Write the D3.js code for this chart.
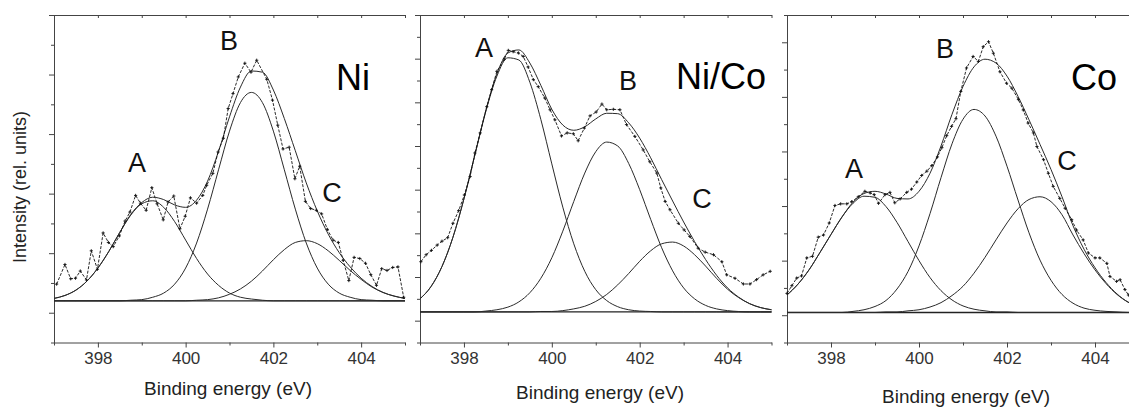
<!DOCTYPE html>
<html><head><meta charset="utf-8">
<script src="https://cdn.jsdelivr.net/npm/d3@7"></script>
<style>
body{margin:0;background:#fff}
svg{display:block}
text{font-family:"Liberation Sans",Arial,sans-serif}
</style>
</head><body>
<svg id="chart" width="1129" height="407"></svg>
<script>
// ---------- DATA ----------
// common energy grid for fitted components (eV)
const energyGrid = [397.00,397.25,397.50,397.75,398.00,398.25,398.50,398.75,399.00,399.25,399.50,399.75,400.00,400.25,400.50,400.75,401.00,401.25,401.50,401.75,402.00,402.25,402.50,402.75,403.00,403.25,403.50,403.75,404.00,404.25,404.50,404.75,405.00];

// Ni panel: fitted components (height above baseline)
const niBaseline = 1.2;
const niCompA = [0.04,0.09,0.18,0.33,0.55,0.83,1.15,1.44,1.63,1.68,1.57,1.33,1.02,0.71,0.45,0.26,0.13,0.06,0.03,0.01,0,0,0,0,0,0,0,0,0,0,0,0,0];
const niCompB = [0,0,0,0,0,0,0,0.01,0.02,0.06,0.13,0.28,0.55,0.97,1.54,2.20,2.85,3.33,3.50,3.33,2.85,2.20,1.54,0.97,0.55,0.28,0.13,0.06,0.02,0.01,0,0,0];
const niCompC = [0,0,0,0,0,0,0,0,0,0,0,0,0,0.01,0.02,0.05,0.11,0.20,0.33,0.50,0.69,0.86,0.98,1.01,0.96,0.84,0.68,0.51,0.36,0.23,0.14,0.08,0.04];
const niDataE = [397.06,397.25,397.38,397.49,397.60,397.74,397.85,397.99,398.12,398.24,398.35,398.49,398.62,398.73,398.86,398.97,399.10,399.23,399.35,399.49,399.60,399.73,399.87,399.99,400.11,400.25,400.39,400.48,400.62,400.74,400.86,400.97,401.08,401.20,401.35,401.49,401.62,401.85,401.98,402.10,402.22,402.36,402.49,402.60,402.73,402.85,402.98,403.10,403.23,403.36,403.48,403.59,403.72,403.84,403.97,404.10,404.22,404.35,404.47,404.59,404.72,404.84,404.97];
const niDataI = [1.48,1.81,1.57,1.58,1.70,1.55,2.04,1.73,2.34,2.18,2.11,2.29,2.54,2.69,2.97,2.84,2.72,3.10,2.83,2.56,2.86,2.96,2.41,2.62,2.93,2.84,2.97,3.14,3.34,3.70,3.93,4.43,4.68,4.96,5.19,5.04,5.24,4.92,4.57,4.15,3.75,3.78,3.25,3.46,2.87,2.75,2.72,2.66,2.40,2.22,2.18,1.88,1.54,1.93,1.91,1.83,1.64,1.46,1.74,1.71,1.76,1.77,1.26];
const niYMajor = [1,2,3,4,5,6];
const niYMinor = [0.5,1.5,2.5,3.5,4.5,5.5];

// Ni/Co panel
const ncBaseline = 1.2;
const ncCompA = [0.30,0.58,1.04,1.71,2.59,3.60,4.60,5.40,5.82,5.77,5.26,4.41,3.39,2.40,1.56,0.93,0.51,0.26,0.12,0.05,0.02,0.01,0,0,0,0,0,0,0,0,0,0,0];
const ncCompB = [0,0,0,0,0,0,0.02,0.05,0.11,0.23,0.44,0.77,1.24,1.85,2.53,3.18,3.67,3.89,3.80,3.40,2.80,2.12,1.47,0.94,0.55,0.30,0.15,0.07,0.03,0.01,0,0,0];
const ncCompC = [0,0,0,0,0,0,0,0,0,0,0,0.01,0.01,0.03,0.07,0.13,0.24,0.40,0.62,0.88,1.16,1.40,1.56,1.60,1.51,1.31,1.05,0.77,0.52,0.33,0.19,0.10,0.05];
const ncDataE = [397.02,397.14,397.26,397.39,397.50,397.63,397.75,397.88,398.01,398.14,398.25,398.37,398.52,398.63,398.75,398.92,399.01,399.12,399.24,399.35,399.46,399.58,399.69,399.84,399.96,400.07,400.22,400.35,400.49,400.60,400.74,400.87,401.01,401.14,401.25,401.40,401.55,401.70,401.89,402.08,402.23,402.39,402.48,402.58,402.69,402.88,403.01,403.14,403.33,403.49,403.68,403.87,403.98,404.17,404.36,404.51,404.66,404.81,404.97];
const ncDataI = [2.35,2.51,2.61,2.73,2.82,2.90,3.23,3.52,3.88,4.30,4.84,5.30,5.90,6.29,6.71,6.99,7.19,7.16,7.13,7.05,6.81,6.52,6.36,6.10,5.83,5.60,5.23,5.30,5.28,5.12,5.41,5.69,5.78,5.96,5.83,5.84,5.83,5.49,5.22,4.91,4.64,4.38,4.04,3.73,3.54,3.23,3.08,2.93,2.66,2.57,2.51,2.35,2.05,1.97,1.84,1.84,1.94,2.05,2.13];
const ncYMajor = [1,2,3,4,5,6,7,8];
const ncYMinor = [0.5,1.5,2.5,3.5,4.5,5.5,6.5,7.5];

// Co panel
const coBaseline = 1.05;
const coCompA = [0.32,0.52,0.78,1.10,1.43,1.75,2.00,2.13,2.11,1.94,1.65,1.30,0.95,0.64,0.40,0.23,0.12,0.06,0.03,0.01,0.01,0,0,0,0,0,0,0,0,0,0,0,0];
const coCompB = [0,0,0,0,0,0,0.02,0.05,0.11,0.22,0.43,0.75,1.22,1.81,2.47,3.09,3.54,3.72,3.60,3.23,2.68,2.06,1.46,0.96,0.59,0.33,0.17,0.08,0.04,0.02,0.01,0,0];
const coCompC = [0,0,0,0,0,0,0,0,0,0.01,0.01,0.03,0.05,0.10,0.18,0.31,0.48,0.72,1.01,1.33,1.64,1.90,2.07,2.12,2.03,1.79,1.42,1.08,0.78,0.53,0.33,0.19,0.10];
const coDataE = [397.00,397.11,397.22,397.33,397.45,397.58,397.71,397.83,397.96,398.09,398.22,398.36,398.47,398.62,398.77,398.89,398.98,399.08,399.23,399.34,399.45,399.57,399.72,399.83,399.95,400.06,400.18,400.29,400.42,400.52,400.63,400.74,400.84,400.95,401.08,401.23,401.35,401.46,401.58,401.69,401.84,401.99,402.11,402.26,402.37,402.48,402.60,402.68,402.83,402.94,403.05,403.20,403.32,403.47,403.58,403.73,403.85,404.00,404.11,404.27,404.34,404.49,404.57,404.68,404.76];
const coDataI = [1.40,1.54,1.68,1.72,2.05,2.08,2.43,2.47,2.69,3.01,3.04,3.04,3.08,3.17,3.27,3.24,3.21,3.05,3.21,3.25,3.06,3.13,3.25,3.31,3.44,3.56,3.64,3.74,3.90,4.07,4.29,4.46,4.60,5.10,5.53,5.74,5.65,5.92,6.01,5.80,5.46,5.25,5.16,4.95,4.76,4.52,4.34,4.09,3.85,3.60,3.36,3.14,2.96,2.75,2.56,2.38,2.14,2.05,2.05,1.95,1.71,1.62,1.65,1.47,1.37];
const coYMajor = [1,2,3,4,5,6];
const coYMinor = [0.5,1.5,2.5,3.5,4.5,5.5,6.5];

// x ticks and labels
const xMajorTicks = [398,400,402,404];
const xMinorTicks = [397,399,401,403,405];
const xAxisTitle = "Binding energy (eV)";
const yAxisTitle = "Intensity (rel. units)";
const panelNames = ["Ni","Ni/Co","Co"];
const peakNames = ["A","B","C"];

// ---------- LAYOUT ----------
const layout = [
  {xr:[54,405],   yd:[0.5,6],   yr:[342.5,15], title:[228,395],
   peaks:[[137,172],[229,50],[332,202]], name:[336,90]},
  {xr:[420,771.5],yd:[0.5,8],   yr:[342.5,15], title:[600,399],
   peaks:[[484,57],[628,90],[702,208]], name:[676,89]},
  {xr:[787,1139], yd:[0.5,6.5], yr:[342.5,15], title:[966,403],
   peaks:[[854,178],[945,58],[1067,170]], name:[1071,90]}
];
const panelData = [
  {base:niBaseline, comps:[niCompA,niCompB,niCompC], dE:niDataE, dI:niDataI, yMaj:niYMajor, yMin:niYMinor},
  {base:ncBaseline, comps:[ncCompA,ncCompB,ncCompC], dE:ncDataE, dI:ncDataI, yMaj:ncYMajor, yMin:ncYMinor},
  {base:coBaseline, comps:[coCompA,coCompB,coCompC], dE:coDataE, dI:coDataI, yMaj:coYMajor, yMin:coYMinor}
];

const svg = d3.select("#chart");
const axisColor = "#444";
const lineColor = "#2a2a2a";

panelData.forEach((pd, k) => {
  const L = layout[k];
  const x = d3.scaleLinear().domain([397,405]).range(L.xr);
  const y = d3.scaleLinear().domain(L.yd).range(L.yr);
  const g = svg.append("g");

  // axes
  const styleAxis = sel => {
    sel.selectAll("path,line").attr("stroke", axisColor).attr("stroke-width", 1);
  };
  // bottom
  g.append("g").attr("transform", `translate(0,${L.yr[0]})`)
    .call(d3.axisBottom(x).tickValues(xMajorTicks).tickSize(5).tickSizeOuter(0).tickPadding(4).tickFormat(d3.format("d")))
    .call(styleAxis)
    .call(s => s.selectAll("text").attr("font-size", 17).attr("fill", "#333")
      .attr("font-family", '"Liberation Sans",Arial,sans-serif'));
  g.append("g").attr("transform", `translate(0,${L.yr[0]})`)
    .call(d3.axisBottom(x).tickValues(xMinorTicks).tickSize(3).tickFormat(""))
    .call(s => s.select(".domain").remove()).call(styleAxis);
  // top (inward ticks)
  g.append("g").attr("transform", `translate(0,${L.yr[1]})`)
    .call(d3.axisTop(x).tickValues(xMajorTicks.concat(xMinorTicks)).tickSizeInner(-3).tickSizeOuter(0).tickFormat(""))
    .call(styleAxis);
  // left
  g.append("g").attr("transform", `translate(${L.xr[0]},0)`)
    .call(d3.axisLeft(y).tickValues(pd.yMaj).tickSize(5).tickSizeOuter(0).tickFormat(""))
    .call(styleAxis);
  g.append("g").attr("transform", `translate(${L.xr[0]},0)`)
    .call(d3.axisLeft(y).tickValues(pd.yMin).tickSize(3).tickFormat(""))
    .call(s => s.select(".domain").remove()).call(styleAxis);

  // baseline
  g.append("path")
    .attr("d", d3.line()([[x(397), y(pd.base)], [x(405), y(pd.base)]]))
    .attr("stroke", "#222").attr("stroke-width", 1.3).attr("fill", "none");

  const curve = d3.line().x(d => x(d.e)).y(d => y(d.v)).curve(d3.curveMonotoneX);

  // components
  pd.comps.forEach(c => {
    const pts = energyGrid.map((e, i) => ({e, v: pd.base + c[i]}));
    g.append("path").attr("d", curve(pts))
      .attr("fill", "none").attr("stroke", lineColor).attr("stroke-width", 1);
  });
  // envelope (sum of components)
  const env = energyGrid.map((e, i) => ({e, v: pd.base + pd.comps[0][i] + pd.comps[1][i] + pd.comps[2][i]}));
  g.append("path").attr("d", curve(env))
    .attr("fill", "none").attr("stroke", lineColor).attr("stroke-width", 1);

  // measured data
  const pts = pd.dE.map((e, i) => ({e, v: pd.dI[i]}));
  g.append("path")
    .attr("d", d3.line().x(d => x(d.e)).y(d => y(d.v))(pts))
    .attr("fill", "none").attr("stroke", "#111").attr("stroke-width", 0.9)
    .attr("stroke-dasharray", "3,1.5");
  g.selectAll(".mk").data(pts).join("path")
    .attr("transform", d => `translate(${x(d.e)},${y(d.v)})`)
    .attr("d", "M-1.6,0H1.6M0,-1.6V1.6")
    .attr("stroke", "#111").attr("stroke-width", 0.9);

  // peak labels
  peakNames.forEach((nm, j) => {
    g.append("text").attr("x", L.peaks[j][0]).attr("y", L.peaks[j][1])
      .attr("text-anchor", "middle").attr("font-size", 27).attr("fill", "#111").text(nm);
  });
  // panel name
  g.append("text").attr("x", L.name[0]).attr("y", L.name[1])
    .attr("font-size", 36).attr("fill", "#000").text(panelNames[k]);
  // x title
  g.append("text").attr("x", L.title[0]).attr("y", L.title[1])
    .attr("text-anchor", "middle").attr("font-size", 19).attr("fill", "#222").text(xAxisTitle);
});

// y title
svg.append("text").attr("transform", "translate(26,187) rotate(-90)")
  .attr("text-anchor", "middle").attr("font-size", 18).attr("fill", "#222").text(yAxisTitle);
</script>
</body></html>
